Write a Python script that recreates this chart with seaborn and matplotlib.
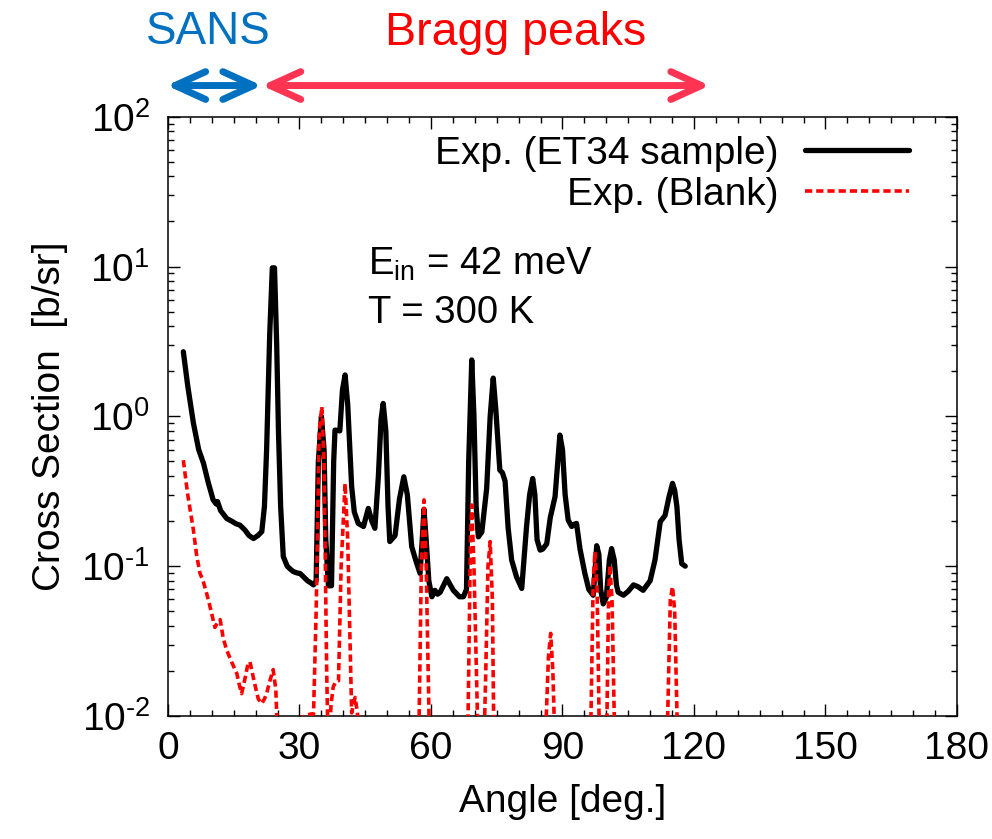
import numpy as np
import pandas as pd
import matplotlib
matplotlib.use("Agg")
import matplotlib.pyplot as plt
import seaborn as sns
from matplotlib.ticker import MultipleLocator, LogLocator, NullFormatter, FuncFormatter

# ---------------- data ----------------
sample_angle = [3.5, 4.5, 5.8, 7.0, 8.1, 9.2, 10.3, 11.0, 11.3, 12.0, 13.4, 14.5, 15.5, 16.4,
                17.5, 18.5, 19.5, 20.5, 21.4, 22.0, 22.5, 23.2, 23.8, 24.3, 24.8, 25.2, 25.7,
                26.3, 27.2, 28.0, 28.6, 29.5, 30.1, 30.9, 31.8, 32.7, 33.2, 33.8, 34.3, 35.0,
                35.6, 36.0, 36.6, 37.3, 37.8, 38.1, 39.2, 39.8, 40.4, 41.0, 41.9, 42.5, 43.4,
                44.6, 45.7, 46.5, 47.2, 48.0, 48.6, 49.1, 49.7, 50.2, 50.6, 51.8, 52.8, 53.8,
                54.6, 55.6, 56.5, 57.5, 58.0, 58.4, 58.9, 59.5, 60.2, 60.9, 61.5, 62.1, 63.6,
                65.1, 66.5, 67.4, 68.1, 68.6, 69.3, 69.8, 70.3, 70.8, 71.6, 72.7, 73.5, 74.2,
                74.8, 75.7, 76.3, 76.9, 77.6, 78.4, 79.5, 80.7, 81.8, 82.5, 83.2, 83.7, 84.2,
                84.9, 85.5, 86.4, 87.2, 88.3, 89.4, 90.0, 90.6, 91.3, 92.1, 92.6, 93.2, 94.0,
                95.1, 96.0, 97.0, 97.5, 97.8, 98.3, 98.7, 99.3, 100.0, 100.7, 101.2, 101.8,
                102.3, 102.7, 103.9, 105.0, 106.2, 107.2, 108.4, 110.0, 111.1, 112.3, 113.4,
                114.3, 115.1, 115.6, 116.1, 116.6, 117.2, 118.0]
sample_xs = [2.7, 1.6, 0.9, 0.6, 0.486, 0.36, 0.277, 0.26, 0.27, 0.235, 0.208, 0.2, 0.192, 0.188,
             0.175, 0.16, 0.153, 0.16, 0.17, 0.25, 0.6, 3.5, 9.8, 9.8, 3.0, 0.8, 0.25,
             0.116, 0.1, 0.095, 0.092, 0.09, 0.0895, 0.085, 0.08, 0.077, 0.075, 0.08, 0.5, 1.0,
             0.6, 0.15, 0.074, 0.074, 0.5, 0.81, 0.80, 1.5, 1.89, 1.2, 0.34, 0.23, 0.193,
             0.184, 0.243, 0.2, 0.179, 0.4, 0.95, 1.22, 0.8, 0.25, 0.146, 0.16, 0.28, 0.395,
             0.3, 0.135, 0.11, 0.0895, 0.15, 0.24, 0.15, 0.08, 0.0625, 0.069, 0.065, 0.067, 0.0825,
             0.069, 0.0625, 0.0625, 0.07, 0.5, 2.38, 1.0, 0.25, 0.157, 0.169, 0.33, 1.0, 1.8,
             1.1, 0.438, 0.42, 0.37, 0.18, 0.11, 0.085, 0.071, 0.184, 0.3, 0.385, 0.3, 0.15,
             0.128, 0.13, 0.141, 0.21, 0.291, 0.75, 0.6, 0.3, 0.203, 0.184, 0.19, 0.193, 0.13,
             0.0895, 0.07, 0.064, 0.1, 0.137, 0.12, 0.07, 0.056, 0.062, 0.11, 0.131, 0.11,
             0.075, 0.067, 0.064, 0.068, 0.075, 0.073, 0.069, 0.08, 0.11, 0.198, 0.218,
             0.29, 0.357, 0.32, 0.25, 0.15, 0.104, 0.10]

blank_angle = [3.5, 4.5, 5.8, 6.5, 7.3, 8.0, 8.8, 9.5, 10.2, 10.7, 11.3, 11.9, 12.6, 13.4, 14.5,
               15.7, 16.3, 16.8, 17.6, 18.2, 18.7, 19.3, 19.8, 20.6, 21.4, 22.0, 22.5, 23.2,
               24.0, 24.6, 25.2, 26.0, 30.0, 30.7, 31.5, 32.5, 33.2, 33.8, 34.5, 35.1, 35.6,
               36.2, 36.6, 37.2, 37.7, 38.3, 38.9, 39.5, 40.4, 41.0, 41.9, 42.3, 42.7, 43.1,
               43.4, 44.0, 56.8, 57.3, 57.8, 58.4, 58.9, 59.5, 60.0, 68.0, 68.5, 69.0, 69.3,
               69.8, 70.6, 71.5, 72.0, 72.5, 73.0, 73.5, 74.0, 74.4, 75.0, 85.8, 86.3, 86.8,
               87.3, 87.8, 88.3, 89.0, 96.0, 96.5, 97.0, 97.4, 97.9, 98.5, 99.5, 100.1, 100.5,
               100.8, 101.3, 102.0, 103.0, 113.5, 114.0, 114.6, 115.1, 115.6, 116.2, 117.0, 118.0]
blank_xs = [0.51, 0.3, 0.174, 0.12, 0.0895, 0.08, 0.066, 0.055, 0.045, 0.039, 0.042, 0.044, 0.033,
            0.0275, 0.023, 0.0192, 0.016, 0.0141, 0.018, 0.022, 0.023, 0.019, 0.0163, 0.013,
            0.0121, 0.013, 0.0141, 0.017, 0.0204, 0.015, 0.005, 0.002, 0.002, 0.0098, 0.0101,
            0.0103, 0.0103, 0.05, 0.8, 1.16, 0.5, 0.02, 0.005, 0.012, 0.0157, 0.017, 0.0172,
            0.1, 0.357, 0.15, 0.0105, 0.012, 0.0133, 0.011, 0.0095, 0.002, 0.002, 0.01, 0.1,
            0.277, 0.1, 0.012, 0.002, 0.002, 0.012, 0.15, 0.256, 0.1, 0.01, 0.002, 0.005,
            0.02, 0.1, 0.146, 0.06, 0.005, 0.002, 0.002, 0.01, 0.025, 0.0356, 0.02, 0.006,
            0.002, 0.002, 0.01, 0.08, 0.125, 0.07, 0.005, 0.002, 0.008, 0.06, 0.1016, 0.06,
            0.005, 0.002, 0.002, 0.01, 0.06, 0.073, 0.05, 0.008, 0.002, 0.002]

series_labels = ["Exp. (ET34 sample)", "Exp. (Blank)"]
x_ticks = [0, 30, 60, 90, 120, 150, 180]
annot_lines = [r"E$_{\mathrm{in}}$ = 42 meV", "T = 300 K"]
region_labels = ["SANS", "Bragg peaks"]

# ---------------- style ----------------
sns.set_theme(style="ticks")
plt.rcParams["font.family"] = ["Liberation Sans", "DejaVu Sans"]
plt.rcParams["mathtext.fontset"] = "custom"
plt.rcParams["mathtext.rm"] = "Liberation Sans"
plt.rcParams["mathtext.it"] = "Liberation Sans:italic"
plt.rcParams["mathtext.bf"] = "Liberation Sans:bold"
plt.rcParams["axes.unicode_minus"] = False
plt.rcParams["text.color"] = "black"
plt.rcParams["axes.labelcolor"] = "black"
plt.rcParams["xtick.color"] = "black"
plt.rcParams["ytick.color"] = "black"
plt.rcParams["axes.edgecolor"] = "black"

FS = 28

fig = plt.figure(figsize=(9.92, 8.39), dpi=100)
ax = fig.add_axes([0.16935, 0.1466, 0.79536, 0.7143])

df_s = pd.DataFrame({"angle": sample_angle, "xs": sample_xs})
df_b = pd.DataFrame({"angle": blank_angle, "xs": blank_xs})

sns.lineplot(data=df_s, x="angle", y="xs", ax=ax, color="black", lw=3.8,
             estimator=None, sort=False, label=series_labels[0], zorder=2)
sns.lineplot(data=df_b, x="angle", y="xs", ax=ax, color="#FF0000", lw=2.6,
             linestyle=(0, (2.0, 1.1)), estimator=None, sort=False,
             label=series_labels[1], zorder=3)

ax.set_yscale("log")
ax.set_xlim(0, 180)
ax.set_ylim(0.01, 100)
ax.set_xticks(x_ticks)
ax.xaxis.set_minor_locator(MultipleLocator(5))
ax.yaxis.set_major_locator(LogLocator(base=10, numticks=10))
ax.yaxis.set_minor_locator(LogLocator(base=10, subs=np.arange(2, 10), numticks=20))
ax.yaxis.set_minor_formatter(NullFormatter())


def pow_label(v, pos):
    e = int(round(np.log10(v)))
    return r"$\mathdefault{10^{\text{%d}}}$" % e


ax.yaxis.set_major_formatter(FuncFormatter(pow_label))

ax.tick_params(which="both", direction="in", top=True, right=True, colors="black",
               labelsize=FS, width=1.0)
ax.tick_params(which="major", length=8.5)
ax.tick_params(which="minor", length=4.3)
ax.tick_params(axis="x", pad=11)
ax.tick_params(axis="y", pad=13)
for sp in ax.spines.values():
    sp.set_linewidth(1.1)
    sp.set_color("black")

ax.set_xlabel("Angle [deg.]", fontsize=FS, labelpad=12)
ax.set_ylabel("Cross Section  [b/sr]", fontsize=FS, labelpad=10)

leg = ax.legend(loc="upper right", bbox_to_anchor=(0.939, 0.968), frameon=False,
                fontsize=FS, markerfirst=False, handlelength=2.67, handletextpad=0.67,
                labelspacing=0.12, borderpad=0, borderaxespad=0)

ax.text(0.2535, 0.736, annot_lines[0], transform=ax.transAxes, fontsize=27.5,
        ha="left", va="baseline")
ax.text(0.2535, 0.656, annot_lines[1], transform=ax.transAxes, fontsize=27.5,
        ha="left", va="baseline")

# region arrows above the axes
xtr = ax.get_xaxis_transform()
arrow_y = 1.052
ax.annotate("", xy=(123.6, arrow_y), xytext=(21.4, arrow_y), xycoords=xtr, textcoords=xtr,
            arrowprops=dict(arrowstyle="<->,head_length=22,head_width=10", mutation_scale=1,
                            color="#FF3352", lw=5, shrinkA=0, shrinkB=0,
                            capstyle="round", joinstyle="round"),
            annotation_clip=False)
ax.annotate("", xy=(21.4, arrow_y), xytext=(-0.3, arrow_y), xycoords=xtr, textcoords=xtr,
            arrowprops=dict(arrowstyle="<->,head_length=22,head_width=10", mutation_scale=1,
                            color="#0070C0", lw=5, shrinkA=0, shrinkB=0,
                            capstyle="round", joinstyle="round"),
            annotation_clip=False)

fig.text(208 / 992, 1 - 43.5 / 839, region_labels[0], color="#0070C0", fontsize=33,
         ha="center", va="baseline")
fig.text(516 / 992, 1 - 45 / 839, region_labels[1], color="#FF0000", fontsize=33.5,
         ha="center", va="baseline")

fig.savefig("out.png", dpi=100)
